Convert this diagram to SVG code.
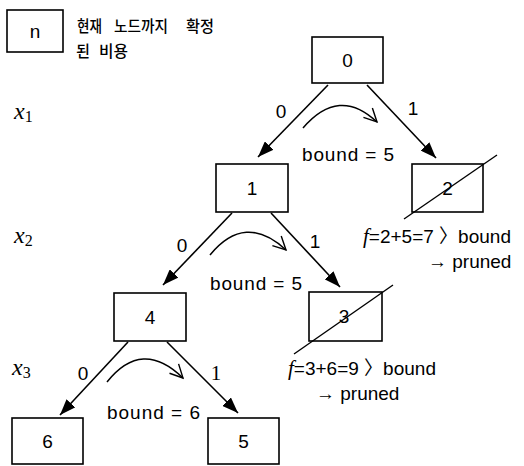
<svg xmlns="http://www.w3.org/2000/svg" width="524" height="466" viewBox="0 0 524 466">
<style>
.box{fill:#fff;stroke:#000;stroke-width:1.6}
.t{font-family:"Liberation Sans","Noto Sans CJK KR",sans-serif;font-size:19px;fill:#000}
.k{font-family:"Noto Sans CJK KR",sans-serif;font-size:16px;font-weight:500;fill:#000}
.xi{font-family:"Liberation Serif",serif;font-style:italic;font-size:24px;fill:#000}
.sub{font-style:normal;font-size:16px}
.fi{font-family:"Liberation Serif",serif;font-style:italic;font-size:21px}
.edge{stroke:#000;stroke-width:1.6;fill:none}
.curve{stroke:#000;stroke-width:1.5;fill:none}
.strike{stroke:#000;stroke-width:1.4}
</style>
<defs>
<marker id="ah" viewBox="0 0 16 12" refX="16" refY="6" markerWidth="16" markerHeight="12" markerUnits="userSpaceOnUse" orient="auto"><path d="M0,0 L16,6 L0,12 z" fill="#000"/></marker>
<marker id="oh" viewBox="-14 -8 16 16" refX="0" refY="0" markerWidth="16" markerHeight="16" markerUnits="userSpaceOnUse" orient="auto"><path d="M-13,-7 L0,0 L-13,6" fill="none" stroke="#000" stroke-width="1.4"/></marker>
</defs>

<g id="legend">
<rect class="box" x="7" y="10" width="56" height="42"/>
<text class="t" x="35" y="38" text-anchor="middle">n</text>
<text class="k" x="77" y="32" textLength="25" lengthAdjust="spacingAndGlyphs">현재</text>
<text class="k" x="114" y="32" textLength="54" lengthAdjust="spacingAndGlyphs">노드까지</text>
<text class="k" x="186" y="32" textLength="28" lengthAdjust="spacingAndGlyphs">확정</text>
<text class="k" x="76" y="57" textLength="14" lengthAdjust="spacingAndGlyphs">된</text>
<text class="k" x="99" y="57" textLength="29" lengthAdjust="spacingAndGlyphs">비용</text>
</g>

<g id="levels">
<text class="xi" x="14" y="119">x<tspan class="sub" dy="3">1</tspan></text>
<text class="xi" x="14" y="243">x<tspan class="sub" dy="3">2</tspan></text>
<text class="xi" x="12" y="375">x<tspan class="sub" dy="3">3</tspan></text>
</g>

<g id="connectors">
<line class="edge" x1="328" y1="85" x2="258" y2="157" marker-end="url(#ah)"/>
<line class="edge" x1="367" y1="85" x2="436" y2="158" marker-end="url(#ah)"/>
<line class="edge" x1="232" y1="213" x2="163" y2="285" marker-end="url(#ah)"/>
<line class="edge" x1="271" y1="213" x2="340" y2="287" marker-end="url(#ah)"/>
<line class="edge" x1="128" y1="342" x2="60" y2="415" marker-end="url(#ah)"/>
<line class="edge" x1="167" y1="342" x2="238" y2="413" marker-end="url(#ah)"/>
<path class="curve" d="M303,128 Q339,86 377,122" marker-end="url(#oh)"/>
<path class="curve" d="M210,255 Q245,212 286,250" marker-end="url(#oh)"/>
<path class="curve" d="M107,382 Q142,338 183,378" marker-end="url(#oh)"/>
<text class="t" x="281" y="118" text-anchor="middle">0</text>
<text class="t" x="413" y="115" text-anchor="middle">1</text>
<text class="t" x="182" y="252" text-anchor="middle">0</text>
<text class="t" x="315" y="248" text-anchor="middle">1</text>
<text class="t" x="83" y="380" text-anchor="middle">0</text>
<text class="t" x="216" y="380" text-anchor="middle" style="font-family:'Liberation Serif',serif;font-size:21px">1</text>
<text class="t" x="302" y="161" textLength="92">bound = 5</text>
<text class="t" x="210" y="290" textLength="92">bound = 5</text>
<text class="t" x="107" y="419" textLength="93">bound = 6</text>
</g>

<g id="node0">
<rect class="box" x="312" y="37" width="71" height="46"/>
<text class="t" x="347.5" y="67" text-anchor="middle">0</text>
</g>
<g id="node1">
<rect class="box" x="216" y="164" width="72" height="48"/>
<text class="t" x="252" y="195" text-anchor="middle">1</text>
</g>
<g id="node2">
<rect class="box" x="412" y="164" width="71" height="48"/>
<text class="t" x="447.5" y="195" text-anchor="middle">2</text>
<line class="strike" x1="404" y1="219" x2="497" y2="155"/>
<text class="t" x="363" y="243"><tspan class="fi">f</tspan>=2+5=7 〉bound</text>
<text class="t" x="428" y="268">→ pruned</text>
</g>
<g id="node3">
<rect class="box" x="309" y="292" width="73" height="49"/>
<text class="t" x="344" y="323" text-anchor="middle">3</text>
<line class="strike" x1="294" y1="354" x2="393" y2="285"/>
<text class="t" x="288" y="375"><tspan class="fi">f</tspan>=3+6=9 〉bound</text>
<text class="t" x="316" y="400">→ pruned</text>
</g>
<g id="node4">
<rect class="box" x="114" y="293" width="72" height="48"/>
<text class="t" x="150" y="324" text-anchor="middle">4</text>
</g>
<g id="node6">
<rect class="box" x="12" y="418" width="71" height="46"/>
<text class="t" x="47.5" y="448" text-anchor="middle">6</text>
</g>
<g id="node5">
<rect class="box" x="208" y="418" width="71" height="46"/>
<text class="t" x="243.5" y="448" text-anchor="middle">5</text>
</g>
</svg>
